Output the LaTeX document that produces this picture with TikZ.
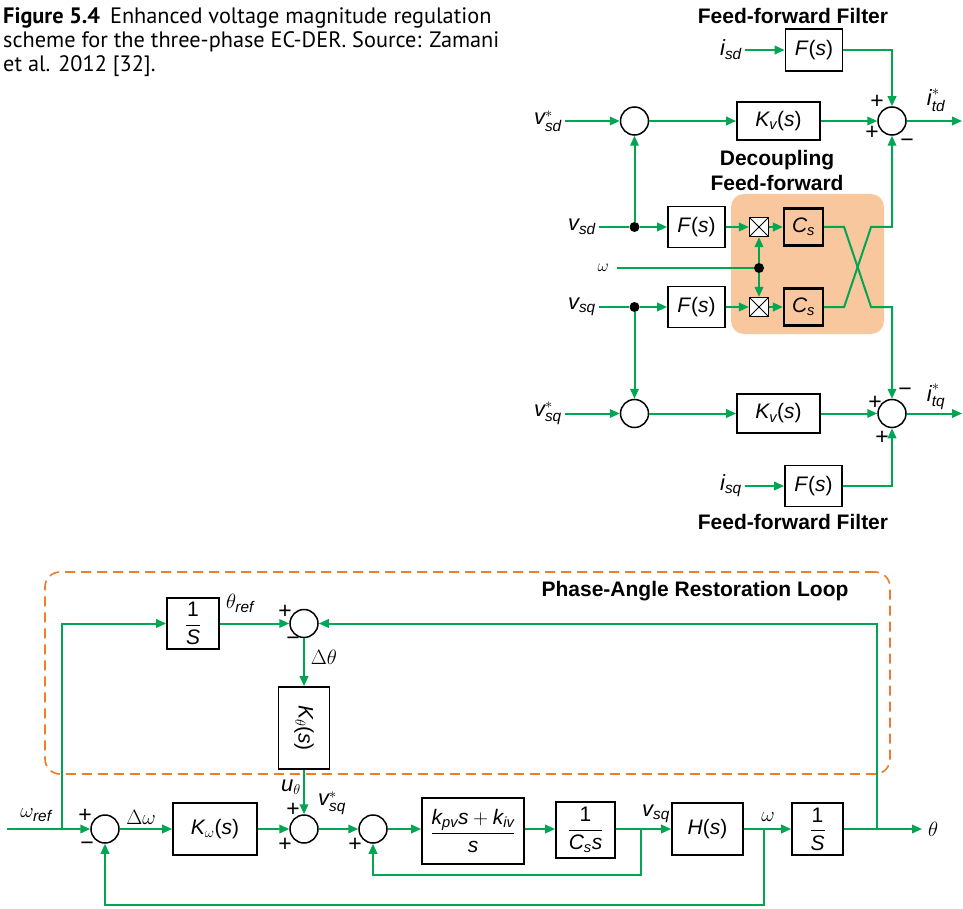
\documentclass[tikz,border=0pt]{standalone}
\usepackage{amsmath}
\usepackage{fontspec}
\setmainfont{Liberation Sans}
\newfontfamily\capfont{PT Sans}
\usetikzlibrary{arrows.meta,calc}
\definecolor{sgreen}{RGB}{0,166,81}
\definecolor{dfill}{RGB}{248,199,157}
\definecolor{loopor}{RGB}{238,125,40}
\begin{document}
\begin{tikzpicture}[x=1pt,y=-1pt,
  font=\fontsize{21}{25}\selectfont,
  blk/.style={draw=black,line width=1.8pt,fill=white,inner sep=0pt},
  csbox/.style={draw=black,line width=2.2pt,fill=dfill,inner sep=0pt,minimum width=39pt,minimum height=37pt},
  sumc/.style={circle,draw=black,line width=1.5pt,fill=white,minimum size=28pt,inner sep=0pt},
  jdot/.style={circle,fill=black,minimum size=10pt,inner sep=0pt},
  mult/.style={draw=black,line width=1.2pt,fill=white,minimum size=19pt,inner sep=0pt,
    path picture={\draw[line width=0.8pt] (path picture bounding box.south west) -- (path picture bounding box.north east) (path picture bounding box.north west) -- (path picture bounding box.south east);}},
  sig/.style={draw=sgreen,line width=2pt},
  arr/.style={sig,-{Triangle[length=10pt,width=8.5pt]}},
  lbl/.style={inner sep=3pt,font=\fontsize{22}{26}\selectfont},
  ttl/.style={font=\fontsize{21}{25}\selectfont\bfseries,inner sep=0pt},
  sgn/.style={font=\fontsize{23}{24}\selectfont,inner sep=0pt},
  capt/.style={anchor=base west,inner sep=0pt,font=\capfont\fontsize{22.3}{24}\selectfont},
]
\useasboundingbox (0,0) rectangle (963,909);

% caption
\node[capt] (cap1) at (3,24) {\textbf{Figure 5.4}\hspace{0.45em}Enhanced voltage magnitude regulation};
\node[capt] (cap2) at (3,48) {scheme for the three-phase EC-DER. Source: Zamani};
\node[capt] (cap3) at (3,72) {et al. 2012 [32].};

% ---------- top right ----------
\node[ttl] (tff1) at (793,16) {Feed-forward Filter};
\node[blk,minimum width=57pt,minimum height=42pt] (ffd) at (814,50) {\textit{F}(\textit{s})};
\node[lbl,anchor=east] (isd) at (745,50) {$\textit{i}_{\textit{sd}}$};
\node[sumc] (std) at (892,121) {};
\node[sumc] (s1) at (634.5,121) {};
\node[blk,minimum width=83pt,minimum height=38pt] (kvd) at (778.5,121) {$\textit{K}_{\textit{v}}$(\textit{s})};
\node[lbl,anchor=east] (vsdr) at (565,121) {$\textit{v}^{*}_{\textit{sd}}$};
\coordinate (otd) at (962,121);
\node[lbl] (itd) at (936,100) {$\textit{i}^{*}_{\textit{td}}$};
\node[sgn] (pd1) at (877,102) {+};
\node[sgn] (pd2) at (872,133) {+};
\node[sgn] (md3) at (907,143) {−};

\draw[arr] (isd.east) -- (ffd.west);
\draw[arr] (ffd.east) -| (std.north);
\draw[arr] (vsdr.east) -- (s1.west);
\draw[arr] (s1.east) -- (kvd.west);
\draw[arr] (kvd.east) -- (std.west);
\draw[arr] (std.east) -- (otd);

\node[ttl,align=center] (tdec) at (777,170) {Decoupling\\Feed-forward};
\node[fill=dfill,rounded corners=13pt,minimum width=153pt,minimum height=140pt,inner sep=0pt] (dec) at (807.5,264) {};

% d row
\node[lbl,anchor=east] (vsd) at (599,227) {$\textit{v}_{\textit{sd}}$};
\node[jdot] (jd) at (634.5,227) {};
\node[blk,minimum width=57pt,minimum height=41pt] (fd) at (696.5,227) {\textit{F}(\textit{s})};
\node[mult] (md) at (759,227) {};
\node[csbox] (cd) at (803.5,227) {$\textit{C}_{\textit{s}}$};
% omega
\node[anchor=east,inner sep=8pt,font=\fontsize{16}{18}\selectfont] (wl) at (617,268) {$\omega$};
\node[jdot] (jw) at (759,268) {};
% q row
\node[lbl,anchor=east] (vsq) at (599,307) {$\textit{v}_{\textit{sq}}$};
\node[jdot] (jq) at (634.5,307) {};
\node[blk,minimum width=57pt,minimum height=41pt] (fq) at (696.5,307) {\textit{F}(\textit{s})};
\node[mult] (mq) at (759,307) {};
\node[csbox] (cq) at (803.5,307) {$\textit{C}_{\textit{s}}$};

\draw[sig] (vsd.east) -- (jd);
\draw[arr] (jd) -- (fd.west);
\draw[arr] (fd.east) -- (md.west);
\draw[arr] (md.east) -- (cd.west);
\draw[arr] (jd) -- (s1.south);
\draw[sig] (wl.east) -- (jw);
\draw[arr] (jw) -- (md.south);
\draw[arr] (jw) -- (mq.north);
\draw[sig] (vsq.east) -- (jq);
\draw[arr] (jq) -- (fq.west);
\draw[arr] (fq.east) -- (mq.west);
\draw[arr] (mq.east) -- (cq.west);

% bottom of top section
\node[sumc] (s3) at (634.5,413.5) {};
\node[blk,minimum width=83pt,minimum height=39pt] (kvq) at (778.5,413.5) {$\textit{K}_{\textit{v}}$(\textit{s})};
\node[sumc] (sq) at (892,413.5) {};
\node[lbl,anchor=east] (vsqr) at (565,413.5) {$\textit{v}^{*}_{\textit{sq}}$};
\node[lbl] (itq) at (936,397) {$\textit{i}^{*}_{\textit{tq}}$};
\coordinate (otq) at (962,413.5);
\node[blk,minimum width=57pt,minimum height=41pt] (fq3) at (813.5,486) {\textit{F}(\textit{s})};
\node[lbl,anchor=east] (isq) at (745,486) {$\textit{i}_{\textit{sq}}$};
\node[ttl] (tff2) at (793,522) {Feed-forward Filter};
\node[sgn] (pq1) at (875,403) {+};
\node[sgn] (mq2) at (905,392) {−};
\node[sgn] (pq3) at (882,438) {+};

\draw[arr] (jq) -- (s3.north);
\draw[arr] (vsqr.east) -- (s3.west);
\draw[arr] (s3.east) -- (kvq.west);
\draw[arr] (kvq.east) -- (sq.west);
\draw[arr] (sq.east) -- (otq);
\draw[arr] (isq.east) -- (fq3.west);
\draw[arr] (fq3.east) -| (sq.south);

% cross-coupling
\draw[arr] (cd.east) -- ++(20,0) -- ($(cq.east)+(47,0)$) -| (sq.north);
\draw[arr] (cq.east) -- ++(20,0) -- ($(cd.east)+(47,0)$) -| (std.south);

% ---------- bottom loop ----------
\node[draw=loopor,dash pattern=on 10pt off 6pt,line width=1.6pt,rounded corners=15pt,minimum width=845pt,minimum height=202pt,inner sep=0pt] (loop) at (467.5,673) {};
\node[ttl] (tloop) at (695,591) {Phase-Angle Restoration Loop};

\node[blk,minimum width=52pt,minimum height=51pt] (pa) at (193,623.5) {$\dfrac{\text{1}}{\textit{S}}$};
\node[sumc] (sth) at (304,623.5) {};
\node[lbl] (thr) at (240,603) {$\theta_{\textit{ref}}$};
\node[sgn] (pt1) at (285,612) {+};
\node[sgn] (mt2) at (293,641) {−};
\node[lbl] (dth) at (324,657) {$\Delta\theta$};
\node[blk,minimum width=51pt,minimum height=82pt] (kth) at (304,728) {\rotatebox{-90}{$\textit{K}_{\theta}$(\textit{s})}};

% main line
\coordinate (wstart) at (7,829);
\node[lbl] (wref) at (36,815) {$\omega_{\textit{ref}}$};
\coordinate (jwr) at (62,829);
\node[sumc] (sa) at (105,829) {};
\node[lbl] (dw) at (141,817) {$\Delta\omega$};
\node[blk,minimum width=84pt,minimum height=52pt] (kw) at (215,829) {$\textit{K}_{\omega}$(\textit{s})};
\node[sumc] (sb) at (304,829) {};
\node[lbl] (ut) at (291,787) {$\textit{u}_{\theta}$};
\node[lbl] (vsqs) at (332,803) {$\textit{v}^{*}_{\textit{sq}}$};
\node[sumc] (sc) at (373,829) {};
\node[blk,minimum width=102pt,minimum height=66pt] (pi) at (473,831) {$\dfrac{\textit{k}_{\textit{pv}}\textit{s} + \textit{k}_{\textit{iv}}}{\textit{s}}$};
\node[blk,minimum width=59pt,minimum height=56pt] (cs) at (585.5,830) {$\dfrac{\text{1}}{\textit{C}_{\textit{s}}\textit{s}}$};
\coordinate (jvs) at (641,829);
\node[lbl] (vsql) at (656,814) {$\textit{v}_{\textit{sq}}$};
\node[blk,minimum width=71pt,minimum height=52pt] (hs) at (707.5,829) {\textit{H}(\textit{s})};
\coordinate (jw2) at (764,829);
\node[lbl] (wl2) at (768,817) {$\omega$};
\node[blk,minimum width=51pt,minimum height=52pt] (is) at (817.5,829) {$\dfrac{\text{1}}{\textit{S}}$};
\coordinate (jth) at (877,829);
\coordinate (oth) at (922,829);
\node[lbl,anchor=west] (thl) at (925,829) {$\theta$};

\node[sgn] (pa1) at (85,816) {+};
\node[sgn] (ma2) at (87,846) {−};
\node[sgn] (pb1) at (293,810) {+};
\node[sgn] (pb2) at (285,845) {+};
\node[sgn] (pc2) at (355,845) {+};

\draw[arr] (wstart) -- (sa.west);
\draw[arr] (jwr) |- (pa.west);
\draw[arr] (pa.east) -- (sth.west);
\draw[arr] (sth.south) -- (kth.north);
\draw[arr] (kth.south) -- (sb.north);
\draw[arr] (sa.east) -- (kw.west);
\draw[arr] (kw.east) -- (sb.west);
\draw[arr] (sb.east) -- (sc.west);
\draw[arr] (sc.east) -- (pi.west |- sc.east);
\draw[arr] (pi.east |- sc.east) -- (cs.west |- sc.east);
\draw[arr] (cs.east |- sc.east) -- (hs.west);
\draw[arr] (hs.east) -- (is.west);
\draw[arr] (is.east) -- (oth);
\draw[arr] (jvs) -- ++(0,46) -| (sc.south);
\draw[arr] (jw2) -- ++(0,76) -| (sa.south);
\draw[arr] (jth) |- (sth.east);
\end{tikzpicture}
\end{document}
